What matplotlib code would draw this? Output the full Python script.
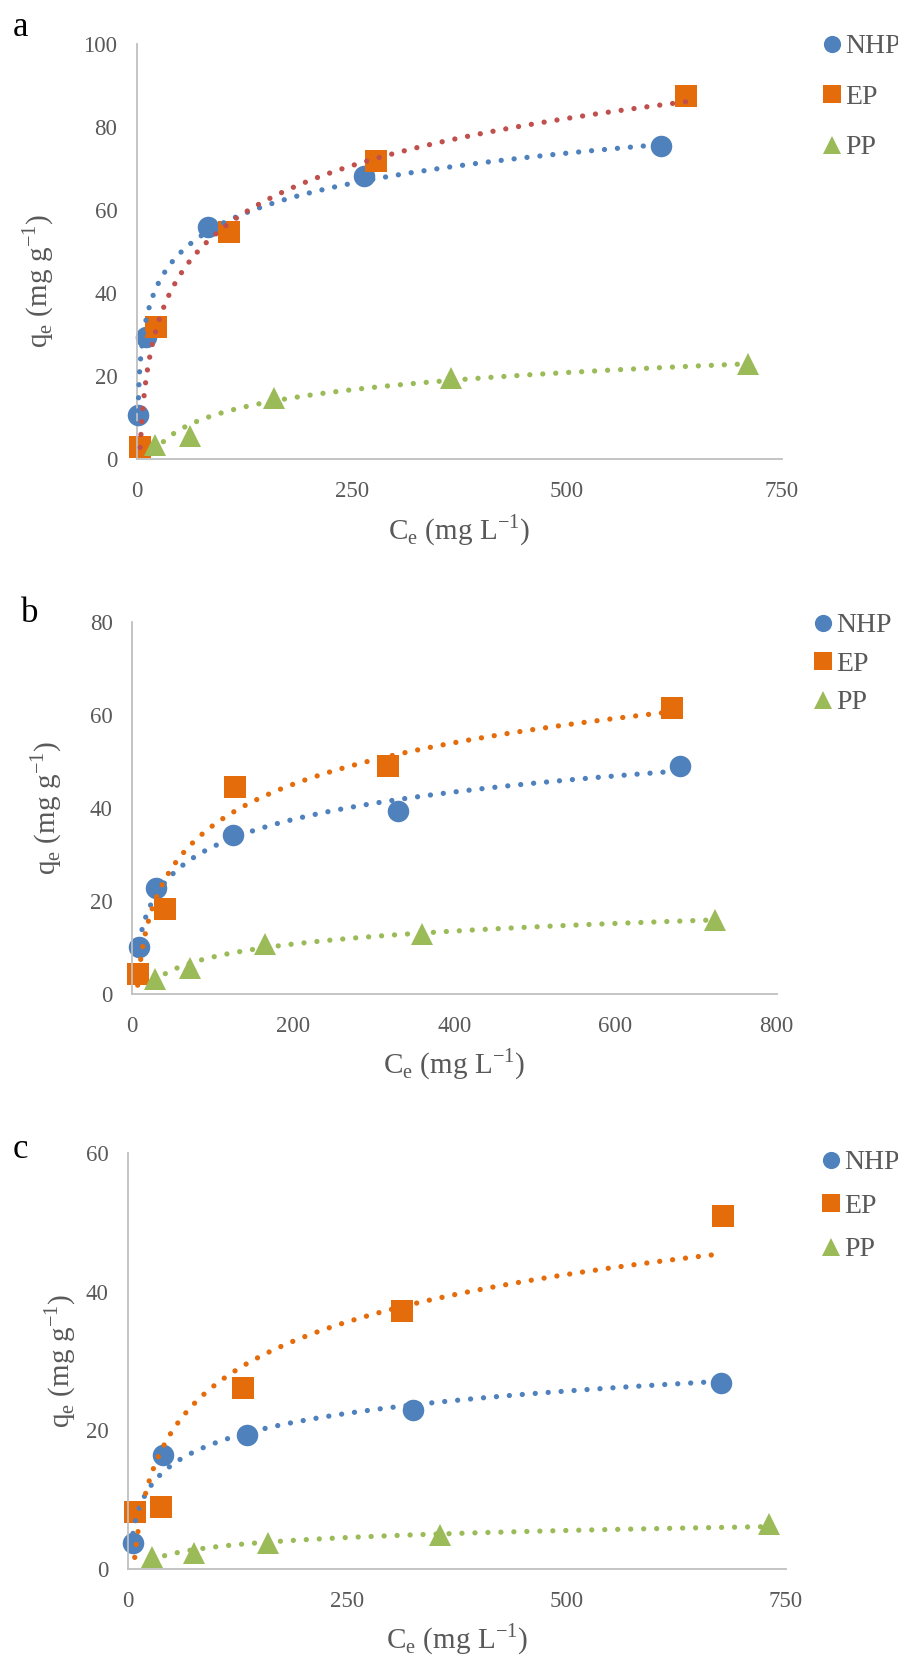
import matplotlib.pyplot as plt
import numpy as np

plt.rcParams['font.family'] = ['Liberation Serif', 'DejaVu Serif']
plt.rcParams['mathtext.fontset'] = 'custom'
plt.rcParams['mathtext.rm'] = 'Liberation Serif'

GREY = "#595959"
AXIS = "#BFBFBF"
BLUE = "#4F81BD"
ORANGE = "#E46C0A"
GREEN = "#9BBB59"
RED = "#C0504D"

LABELS = ["NHP", "EP", "PP"]

# panel a
A_NHP_X = [1, 11, 83, 264, 609]
A_NHP_Y = [10.6, 29.5, 56.0, 68.2, 75.5]
A_EP_X = [4, 22, 107, 278, 638]
A_EP_Y = [2.8, 31.9, 54.8, 71.9, 87.4]
A_PP_X = [21, 62, 160, 365, 710]
A_PP_Y = [3.4, 5.5, 14.8, 19.4, 23.0]

# panel b
B_NHP_X = [9, 30, 125, 330, 680]
B_NHP_Y = [10.2, 22.8, 34.2, 39.4, 49.1]
B_EP_X = [7, 41, 128, 318, 670]
B_EP_Y = [4.3, 18.2, 44.5, 49.1, 61.5]
B_PP_X = [28, 72, 165, 360, 723]
B_PP_Y = [3.3, 5.5, 10.7, 12.9, 16.0]

# panel c
C_NHP_X = [6, 40, 136, 325, 676]
C_NHP_Y = [3.8, 16.5, 19.4, 23.0, 26.8]
C_EP_X = [8, 38, 131, 313, 678]
C_EP_Y = [8.2, 9.0, 26.1, 37.2, 50.9]
C_PP_X = [28, 76, 160, 356, 731]
C_PP_Y = [1.8, 2.3, 3.7, 4.9, 6.5]


def log_trend(ax, x, y, color):
    # excel style logarithmic trendline
    a, b = np.polyfit(np.log(x), y, 1)
    xs = np.linspace(min(x), max(x), 300)
    ax.plot(xs, a * np.log(xs) + b, color=color, lw=3.8,
            linestyle=(0, (0.01, 2.45)), dash_capstyle='round', zorder=3, clip_on=False)


def panel(rect, data, trend_colors, xmax, xticks, ymax, yticks, letter, letter_pos,
          ylab_x, xlab_y, leg_pos, leg_space):
    ax = fig.add_axes(rect)
    markers = ['o', 's', '^']
    colors = [BLUE, ORANGE, GREEN]
    handles = []
    for (x, y), m, c, tc, lab in zip(data, markers, colors, trend_colors, LABELS):
        h, = ax.plot(x, y, linestyle='none', marker=m, ms=15.5, color=c,
                     markeredgewidth=0, zorder=2, clip_on=False, label=lab)
        handles.append(h)
        log_trend(ax, x, y, tc)
    ax.set_xlim(0, xmax)
    ax.set_ylim(0, ymax)
    ax.set_xticks(xticks)
    ax.set_yticks(yticks)
    for s in ['top', 'right']:
        ax.spines[s].set_visible(False)
    for s in ['left', 'bottom']:
        ax.spines[s].set_color(AXIS)
        ax.spines[s].set_linewidth(1.3)
    ax.tick_params(length=0, labelsize=16.5, labelcolor=GREY)
    ax.tick_params(axis='y', pad=14)
    ax.tick_params(axis='x', pad=16)
    ax.set_xlabel("C$_\\mathregular{e}$ (mg L$^{\\mathregular{\u22121}}$)", fontsize=21, color=GREY)
    ax.set_ylabel("q$_\\mathregular{e}$ (mg g$^{\\mathregular{\u22121}}$)", fontsize=21, color=GREY)
    ax.xaxis.set_label_coords(0.5, xlab_y)
    ax.yaxis.set_label_coords(ylab_x[0], ylab_x[1])
    fig.text(letter_pos[0], letter_pos[1], letter, fontsize=25, color='black',
             ha='center', va='center')
    fig.legend(handles=handles, loc='upper left', bbox_to_anchor=leg_pos,
               frameon=False, fontsize=20, handlelength=0.6, handletextpad=0.15,
               borderpad=0, borderaxespad=0, labelspacing=leg_space, markerscale=0.8,
               labelcolor=GREY, numpoints=1)
    return ax


W, H = 898, 1655
fig = plt.figure(figsize=(8.98, 16.55), dpi=100)


def fr(x0, y0, x1, y1):
    return [x0 / W, 1 - y1 / H, (x1 - x0) / W, (y1 - y0) / H]


panel(fr(136.7, 44, 782, 459),
      [(A_NHP_X, A_NHP_Y), (A_EP_X, A_EP_Y), (A_PP_X, A_PP_Y)],
      [BLUE, RED, GREEN], 750, [0, 250, 500, 750], 100, [0, 20, 40, 60, 80, 100],
      "a", (20 / W, 1 - 27 / H), (-0.125, 0.43), -0.128, (824 / W, 1 - 34 / H), 0.9)

panel(fr(132, 621.7, 776.7, 994),
      [(B_NHP_X, B_NHP_Y), (B_EP_X, B_EP_Y), (B_PP_X, B_PP_Y)],
      [BLUE, ORANGE, GREEN], 800, [0, 200, 400, 600, 800], 80, [0, 20, 40, 60, 80],
      "b", (30 / W, 1 - 613 / H), (-0.105, 0.5), -0.14, (815 / W, 1 - 613 / H), 0.47)

panel(fr(127.7, 1153.3, 785.7, 1569),
      [(C_NHP_X, C_NHP_Y), (C_EP_X, C_EP_Y), (C_PP_X, C_PP_Y)],
      [BLUE, ORANGE, GREEN], 750, [0, 250, 500, 750], 60, [0, 20, 40, 60],
      "c", (20 / W, 1 - 1150 / H), (-0.075, 0.5), -0.127, (823 / W, 1 - 1150 / H), 0.65)

fig.savefig("out.png", dpi=100)
